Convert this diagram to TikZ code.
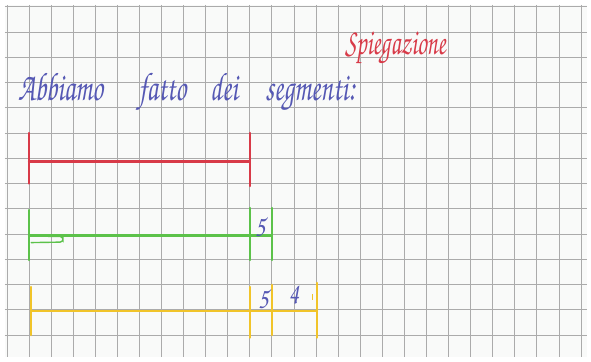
\documentclass[tikz,border=0pt]{standalone}
\usepackage[T1]{fontenc}
\usepackage{tikz}
\usetikzlibrary{positioning}
\definecolor{gridgray}{HTML}{ABABAB}
\definecolor{paper}{HTML}{F9FAF9}
\definecolor{penblue}{HTML}{5558B4}
\definecolor{penred}{HTML}{D83A48}
\definecolor{pengreen}{HTML}{5CC24A}
\definecolor{penyellow}{HTML}{F1C42A}
\newcommand{\handfont}[1]{\fontfamily{pzc}\fontseries{mb}\fontshape{it}\fontsize{#1}{#1}\selectfont}

\begin{document}
\begin{tikzpicture}[x=22.08pt,y=-25.25pt,
 word/.style={anchor=base west,inner sep=0pt,text=penblue,font=\handfont{40},xscale=0.68,transform shape},
 title/.style={anchor=base,inner sep=0pt,text=penred,font=\handfont{37},xscale=0.65,transform shape},
 num/.style={inner sep=0pt,text=penblue,font=\handfont{30},xscale=0.8,transform shape},
 redpen/.style={penred,line width=2.1pt,line cap=round},
 greenpen/.style={pengreen,line width=2.1pt,line cap=round},
 yellowpen/.style={penyellow,line width=2.6pt,line cap=round}]
\useasboundingbox[fill=white] (-1.3134,-0.2673) rectangle (25.453,14.069);
\fill[paper] (-1.09,-0.07) rectangle (25.27,13.87);
% squared paper
\foreach \i in {-1,...,25}
  \draw[gridgray,line width=0.8pt] (\i,-0.07) -- (\i,13.87);
\foreach \j in {0,...,13}
  \draw[gridgray,line width=0.8pt] (-1.09,\j) -- (25.27,\j);

\node[title] (spieg) at (16.6,1.91) {Spiegazione};
\node[word] (w1) at (-0.50,3.72) {Abbiamo};
\node[word] (w2) at (4.95,3.72) {fatto};
\node[word] (w3) at (8.2,3.72) {dei};
\node[word] (w4) at (10.7,3.72) {segmenti:};

% red segment
\draw[redpen] (0,5.0) -- (0,7.0);
\draw[redpen] (10,5.0) -- (10,7.1);
\draw[redpen] (0,6.13) -- (10,6.13);

% green segment
\draw[greenpen] (0,8.05) -- (0,10.03);
\foreach \x in {10,11}
  \draw[greenpen] (\x,7.97) -- (\x,10.03);
\draw[greenpen] (0,9.06) -- (11,9.06);
\draw[greenpen,line width=1.4pt,rounded corners=3pt] (0.05,9.08) -- (1.54,9.1) -- (1.54,9.32) -- (0.1,9.34);
\node[num] (g5) at (10.46,8.7) {5};

% yellow segment
\draw[yellowpen] (0.09,11.1) -- (0.09,13.0);
\draw[yellowpen] (10,11.1) -- (10,13.1);
\draw[yellowpen] (11,11.02) -- (11,13.0);
\draw[yellowpen] (13.04,10.94) -- (13.04,13.1);
\draw[yellowpen] (0.09,12.05) -- (13.04,12.05);
\node[num] (y5) at (10.6,11.55) {5};
\node[num] (y4) at (12.0,11.4) {4};
\draw[penyellow,line width=1pt] (12.82,11.38) -- (12.82,11.6);
\end{tikzpicture}
\end{document}
